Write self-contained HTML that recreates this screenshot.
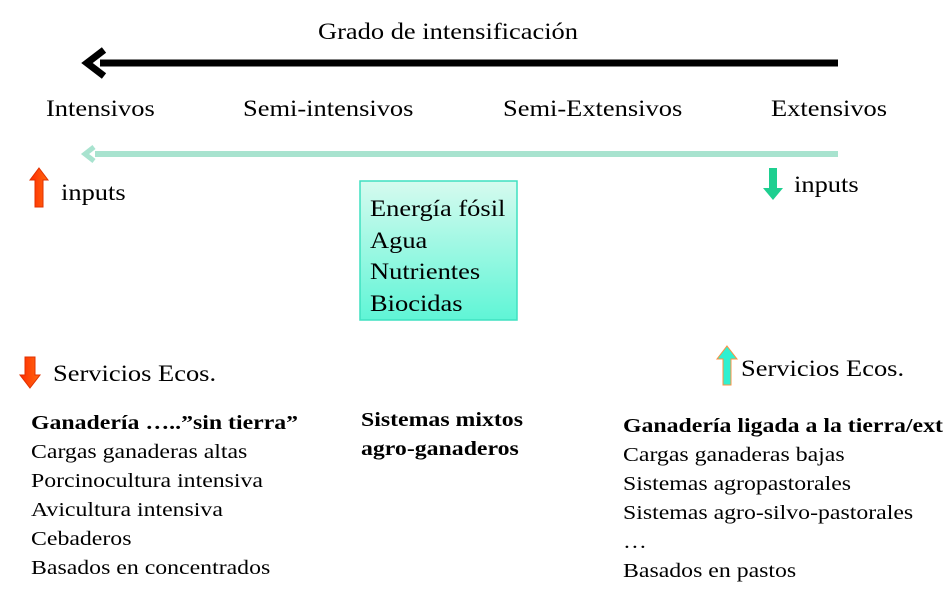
<!DOCTYPE html>
<html><head><meta charset="utf-8"><style>
body{margin:0;width:947px;height:603px;background:#fff;position:relative;overflow:hidden;font-family:"Liberation Serif",serif;color:#000}
.t{position:absolute;white-space:nowrap;font-size:23px;line-height:1;transform:scaleX(1.15);transform-origin:0 0}
.s{position:absolute;white-space:nowrap;font-size:20px;line-height:29px;transform:scaleX(1.19);transform-origin:0 0}
</style></head><body>
<div class="t" style="left:318px;top:20px">Grado de intensificación</div>
<svg width="947" height="603" style="position:absolute;left:0;top:0">
<line x1="100" y1="63" x2="838" y2="63" stroke="#000" stroke-width="7"/>
<polyline points="104,50 87,63 104,76" fill="none" stroke="#000" stroke-width="7" stroke-linejoin="miter"/>
<line x1="95" y1="154" x2="838" y2="154" stroke="#a8e3cf" stroke-width="6"/>
<polyline points="94,147 85,154 94,161" fill="none" stroke="#a8e3cf" stroke-width="5"/>
<defs>
<linearGradient id="g" x1="0" y1="0" x2="0" y2="1"><stop offset="0" stop-color="#d6fbef"/><stop offset="1" stop-color="#5ff5d6"/></linearGradient>
<linearGradient id="r" x1="0" y1="0" x2="1" y2="0"><stop offset="0" stop-color="#ff2a00"/><stop offset="1" stop-color="#ff6a10"/></linearGradient>
</defs>
<rect x="360" y="181" width="157" height="139" fill="url(#g)" stroke="#3fe0c0" stroke-width="1.5"/>
<polygon points="39,168 48,180 43,180 43,207 35,207 35,180 30,180" fill="url(#r)" stroke="#e03000"/>
<polygon points="773,200 783,188 777,188 777,168 769,168 769,188 763,188" fill="#1ecf90"/>
<polygon points="30,388 40,375 35,375 35,357 25,357 25,375 20,375" fill="url(#r)" stroke="#e03000"/>
<polygon points="727,346 737,359 731,359 731,385 723,385 723,359 717,359" fill="#30f0d0" stroke="#ff9040"/>
</svg>
<div class="t" style="left:46px;top:97px">Intensivos</div>
<div class="t" style="left:243px;top:97px">Semi-intensivos</div>
<div class="t" style="left:503px;top:97px">Semi-Extensivos</div>
<div class="t" style="left:771px;top:97px">Extensivos</div>
<div class="t" style="left:61px;top:181px">inputs</div>
<div class="t" style="left:794px;top:173px">inputs</div>
<div class="t" style="left:370px;top:193px;line-height:31.5px">Energía fósil<br>Agua<br>Nutrientes<br>Biocidas</div>
<div class="t" style="left:53px;top:362px">Servicios Ecos.</div>
<div class="t" style="left:741px;top:357px">Servicios Ecos.</div>
<div class="s" style="left:31px;top:409px"><b>Ganadería …..”sin tierra”</b><br>Cargas ganaderas altas<br>Porcinocultura intensiva<br>Avicultura intensiva<br>Cebaderos<br>Basados en concentrados</div>
<div class="s" style="left:361px;top:406px"><b>Sistemas mixtos<br>agro-ganaderos</b></div>
<div class="s" style="left:623px;top:412px"><b>Ganadería ligada a la tierra/ext</b><br>Cargas ganaderas bajas<br>Sistemas agropastorales<br>Sistemas agro-silvo-pastorales<br>…<br>Basados en pastos</div>
</body></html>
